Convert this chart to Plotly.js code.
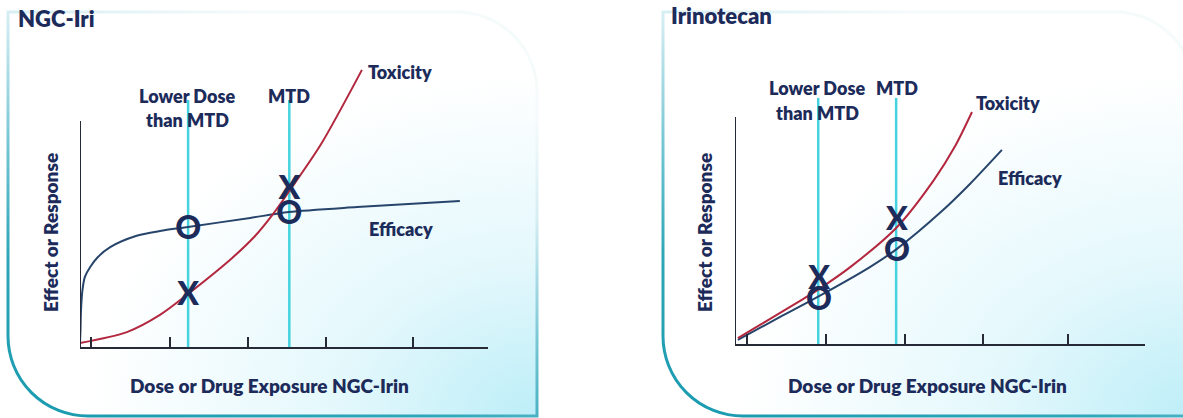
<!DOCTYPE html>
<html><head><meta charset="utf-8">
<script src="https://cdn.plot.ly/plotly-3.0.1.min.js"></script>
<style>html,body{margin:0;padding:0;background:#fff;}#chart{width:1183px;height:418px;}</style>
</head><body><div id="chart"></div>
<script>
// ---------- data: NGC-Iri panel ----------
const ngcTicks = [2.7, 22.1, 41.2, 60.3, 81.5];
const ngcDoseLines = [26.5, 51.3];               // Lower dose, MTD
const ngcEffDose = [0, 0.12, 0.25, 0.6, 1.2, 2.5, 4.4, 7.4, 13.7, 19.6, 26.5, 41.7, 51.2, 67.9, 93.1];
const ngcEffResp = [1.8, 7.5, 16.4, 25.2, 31.0, 35.4, 39.8, 44.2, 49.1, 51.3, 53.1, 57.1, 59.7, 61.9, 64.6];
const ngcToxDose = [0, 11.5, 19.6, 26.5, 37.3, 42.9, 47.3, 51.5, 59.1, 69.1];
const ngcToxResp = [1.8, 6.6, 14.2, 23.5, 39.4, 49.1, 58.8, 69.5, 89.8, 122.6];
const ngcMarkDose = [26.5, 26.5, 51.3, 51.3];
const ngcMarkResp = [51.4, 22.1, 69.1, 58.1];
const ngcMarkText = ['O', 'X', 'X', 'O'];

// ---------- data: Irinotecan panel ----------
const iriTicks = [3.0, 22.3, 41.5, 60.6, 81.2];
const iriDoseLines = [20.3, 39.3];
const iriEffDose = [0.7, 11.0, 20.5, 32.9, 39.5, 50.2, 57.3, 65.1];
const iriEffResp = [1.8, 11.9, 21.1, 33.9, 41.9, 58.1, 70.5, 85.5];
const iriToxDose = [0.7, 6.1, 11.0, 16.6, 20.5, 28.5, 39.3, 48.5, 53.7, 57.8];
const iriToxResp = [2.6, 8.4, 13.7, 19.8, 24.2, 34.4, 51.1, 72.2, 87.2, 102.2];
const iriMarkDose = [20.5, 20.5, 39.5, 39.5];
const iriMarkResp = [27.8, 18.3, 53.6, 40.1];
const iriMarkText = ['X', 'O', 'X', 'O'];

// ---------- text ----------
const panelTitles = ['NGC-Iri', 'Irinotecan'];
const xTitle = 'Dose or Drug Exposure NGC-Irin';
const yTitle = 'Effect or Response';
const lineLabels = ['Lower Dose', 'than MTD', 'MTD'];
const curveLabels = ['Toxicity', 'Efficacy'];

// ---------- styles ----------
const FONT = 'Lato, "Open Sans", "DejaVu Sans", sans-serif';
const NAVY = '#1c2b5a';
const RED = '#b3283f';
const BLUE = '#27446b';
const CYAN = '#44d3df';
const AX = '#262936';

function vlines(xs, top) {
  const x = [], y = [];
  xs.forEach(v => { x.push(v, v, null); y.push(0, top, null); });
  return {x, y};
}

const W = 1183, H = 418;
const ngcV = vlines(ngcDoseLines, 109.3);
const iriV = vlines(iriDoseLines, 108.4);
const markFont = {family: FONT, size: 32, color: NAVY, weight: 900};

const traces = [
  {x: ngcV.x, y: ngcV.y, mode: 'lines', line: {color: CYAN, width: 2.5}, xaxis: 'x', yaxis: 'y', hoverinfo: 'skip'},
  {x: ngcEffDose, y: ngcEffResp, mode: 'lines', line: {color: BLUE, width: 2, shape: 'spline', smoothing: 0.8}, xaxis: 'x', yaxis: 'y', name: 'Efficacy'},
  {x: ngcToxDose, y: ngcToxResp, mode: 'lines', line: {color: RED, width: 2, shape: 'spline', smoothing: 0.8}, xaxis: 'x', yaxis: 'y', name: 'Toxicity'},
  {x: ngcMarkDose, y: ngcMarkResp, mode: 'text', text: ngcMarkText, textposition: 'middle center',
   textfont: markFont, xaxis: 'x', yaxis: 'y', cliponaxis: false},
  {x: iriV.x, y: iriV.y, mode: 'lines', line: {color: CYAN, width: 2.5}, xaxis: 'x2', yaxis: 'y2', hoverinfo: 'skip'},
  {x: iriEffDose, y: iriEffResp, mode: 'lines', line: {color: BLUE, width: 2, shape: 'spline', smoothing: 0.8}, xaxis: 'x2', yaxis: 'y2', name: 'Efficacy'},
  {x: iriToxDose, y: iriToxResp, mode: 'lines', line: {color: RED, width: 2, shape: 'spline', smoothing: 0.8}, xaxis: 'x2', yaxis: 'y2', name: 'Toxicity'},
  {x: iriMarkDose, y: iriMarkResp, mode: 'text', text: iriMarkText, textposition: 'middle center',
   textfont: markFont, xaxis: 'x2', yaxis: 'y2', cliponaxis: false}
];

function xAxis(dom, ticks) {
  return {domain: dom, range: [0, 100], showline: true, linecolor: AX, linewidth: 2,
    ticks: 'inside', ticklen: 10, tickwidth: 2, tickcolor: AX, tickmode: 'array', tickvals: ticks,
    showticklabels: false, showgrid: false, zeroline: false, fixedrange: true};
}
function yAxis(dom, top) {
  return {domain: dom, range: [0, top], showline: false, showticklabels: false, ticks: '',
    showgrid: false, zeroline: false, fixedrange: true};
}

const strokeStops = '<stop offset="0" stop-color="#1a9bb0"/><stop offset="0.3" stop-color="#2fa6b9"/><stop offset="0.55" stop-color="#7cc8d6"/><stop offset="0.8" stop-color="#d6eef3"/><stop offset="1" stop-color="#f5fafb"/>';
const bgSvg = `<svg xmlns="http://www.w3.org/2000/svg" width="${W}" height="${H}" viewBox="0 0 ${W} ${H}" preserveAspectRatio="none">
<defs>
<radialGradient id="f1" cx="1" cy="1" r="0.85"><stop offset="0" stop-color="#bdeef8"/><stop offset="0.45" stop-color="#e4f8fc"/><stop offset="1" stop-color="#ffffff"/></radialGradient>
<linearGradient id="s1" gradientUnits="userSpaceOnUse" x1="60" y1="418" x2="220" y2="0">${strokeStops}</linearGradient>
<linearGradient id="s2" gradientUnits="userSpaceOnUse" x1="715" y1="418" x2="875" y2="0">${strokeStops}</linearGradient>
</defs>
<path d="M8,12 H457 A80,80 0 0 1 537,92 V416 H88 A80,80 0 0 1 8,336 Z" fill="url(#f1)" stroke="url(#s1)" stroke-width="3"/>
<path d="M663,12 H1115 A80,80 0 0 1 1195,92 V416 H743 A80,80 0 0 1 663,336 Z" fill="url(#f1)" stroke="url(#s2)" stroke-width="3"/>
</svg>`;

const tf = (size) => ({family: FONT, size: size, color: NAVY, weight: 800});
const ann = [];
function A(text, x, y, xref, yref, size, opts) {
  ann.push(Object.assign({text, x, y, xref, yref, showarrow: false, font: tf(size), xanchor: 'center', yanchor: 'middle'}, opts || {}));
}
// panel titles
A(panelTitles[0], 16 / W, 1 - 19 / H, 'paper', 'paper', 22, {xanchor: 'left'});
A(panelTitles[1], 669 / W, 1 - 16 / H, 'paper', 'paper', 22, {xanchor: 'left'});
// axis titles
A(xTitle, 269 / W, 1 - 385 / H, 'paper', 'paper', 19);
A(xTitle, 927.5 / W, 1 - 385 / H, 'paper', 'paper', 19);
A(yTitle, 50 / W, 1 - 233 / H, 'paper', 'paper', 19, {textangle: -90});
A(yTitle, 704 / W, 1 - 233 / H, 'paper', 'paper', 19, {textangle: -90});
// NGC-Iri labels
A(lineLabels[0], 26.3, 111.1, 'x', 'y', 18);
A(lineLabels[1], 26.3, 100.4, 'x', 'y', 18);
A(lineLabels[2], 51.3, 111.1, 'x', 'y', 18);
A(curveLabels[0], 78.4, 121.7, 'x', 'y', 18);
A(curveLabels[1], 78.7, 52.2, 'x', 'y', 18);
// Irinotecan labels
A(lineLabels[0], 20.1, 112.8, 'x2', 'y2', 18);
A(lineLabels[1], 20.2, 101.8, 'x2', 'y2', 18);
A(lineLabels[2], 39.6, 112.8, 'x2', 'y2', 18);
A(curveLabels[0], 66.6, 106.2, 'x2', 'y2', 18);
A(curveLabels[1], 72.0, 73.1, 'x2', 'y2', 18);

const layout = {
  width: W, height: H, margin: {l: 0, r: 0, t: 0, b: 0, pad: 0},
  paper_bgcolor: '#ffffff', plot_bgcolor: 'rgba(0,0,0,0)',
  showlegend: false, hovermode: false,
  xaxis: Object.assign(xAxis([80 / W, 488 / W], ngcTicks), {anchor: 'y'}),
  yaxis: Object.assign(yAxis([71 / H, 368 / H], 131.4), {anchor: 'x'}),
  xaxis2: Object.assign(xAxis([735 / W, 1145 / W], iriTicks), {anchor: 'y2'}),
  yaxis2: Object.assign(yAxis([74 / H, 368 / H], 129.5), {anchor: 'x2'}),
  shapes: [
    {type: 'line', xref: 'x', yref: 'y', x0: 0, x1: 0, y0: 0, y1: 100, line: {color: AX, width: 2}},
    {type: 'line', xref: 'x2', yref: 'y2', x0: 0, x1: 0, y0: 0, y1: 100, line: {color: AX, width: 2}}
  ],
  annotations: ann,
  images: [{source: 'data:image/svg+xml;charset=utf-8,' + encodeURIComponent(bgSvg),
    xref: 'paper', yref: 'paper', x: 0, y: 1, sizex: 1, sizey: 1, xanchor: 'left', yanchor: 'top',
    sizing: 'stretch', layer: 'below'}]
};

Plotly.newPlot('chart', traces, layout, {staticPlot: true, displayModeBar: false});
</script></body></html>
